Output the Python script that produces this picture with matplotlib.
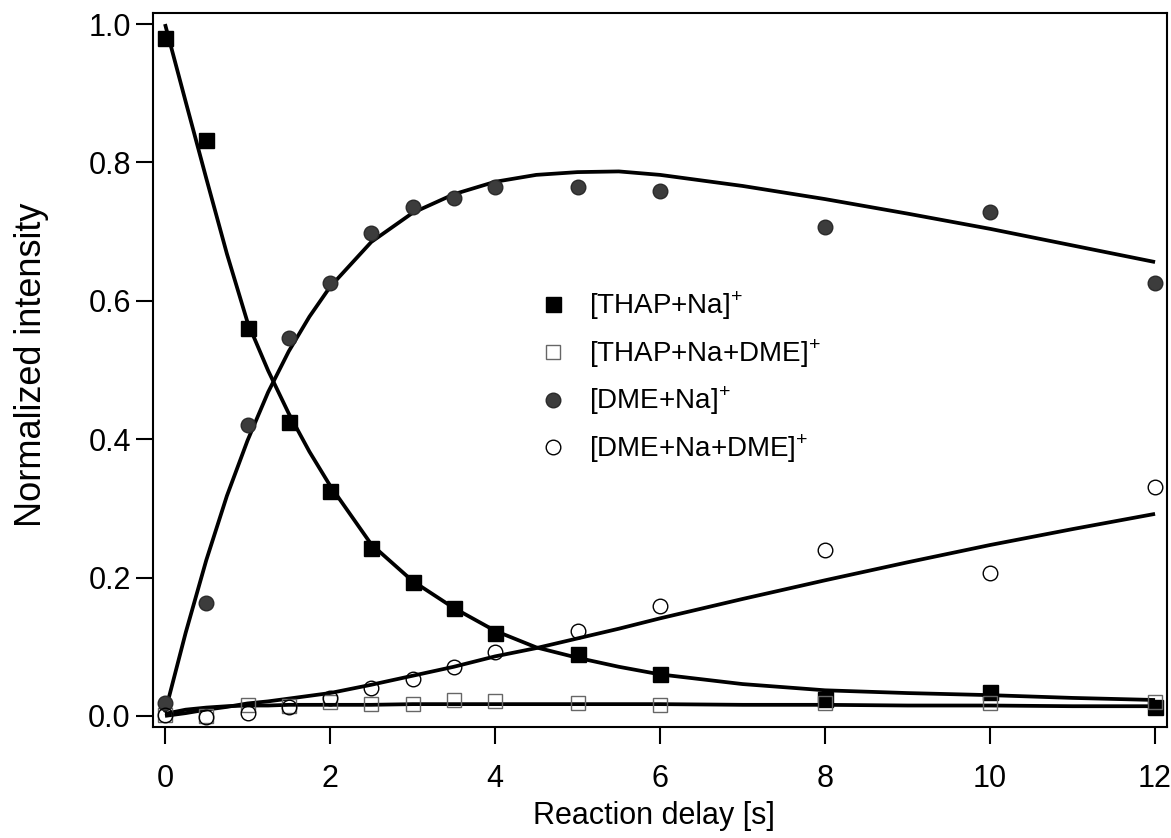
import matplotlib
matplotlib.use("Agg")
import matplotlib.pyplot as plt

plt.rcParams['font.family'] = ['Liberation Sans', 'DejaVu Sans']
plt.rcParams['mathtext.fontset'] = 'custom'
plt.rcParams['mathtext.rm'] = 'Liberation Sans'

# measured points
t_pts = [0, 0.5, 1, 1.5, 2, 2.5, 3, 3.5, 4, 5, 6, 8, 10, 12]
thap_na = [0.98, 0.833, 0.56, 0.425, 0.325, 0.243, 0.193, 0.156, 0.12, 0.089, 0.061, 0.024, 0.034, 0.013]
thap_na_dme = [0.001, 0.0, 0.016, 0.014, 0.02, 0.017, 0.017, 0.023, 0.021, 0.019, 0.016, 0.018, 0.018, 0.02]
dme_na = [0.018, 0.163, 0.42, 0.546, 0.625, 0.698, 0.736, 0.748, 0.765, 0.764, 0.758, 0.706, 0.729, 0.625]
dme_na_dme = [0.001, -0.001, 0.004, 0.013, 0.026, 0.041, 0.054, 0.071, 0.093, 0.122, 0.159, 0.24, 0.206, 0.331]

# fitted curves
t_fit = [0, 0.25, 0.5, 0.75, 1.0, 1.25, 1.5, 1.75, 2.0, 2.5, 3.0, 3.5, 4.0, 4.5, 5.0,
         5.5, 6.0, 7.0, 8.0, 9.0, 10.0, 11.0, 12.0]
fit_thap_na = [1.0, 0.888, 0.777, 0.668, 0.569, 0.499, 0.437, 0.382, 0.333, 0.248, 0.195, 0.156,
               0.123, 0.099, 0.084, 0.071, 0.06, 0.046, 0.037, 0.033, 0.03, 0.026, 0.023]
fit_thap_na_dme = [0.003, 0.009, 0.012, 0.014, 0.015, 0.015, 0.016, 0.016, 0.016, 0.016, 0.017, 0.017,
                   0.017, 0.017, 0.017, 0.017, 0.017, 0.016, 0.016, 0.015, 0.015, 0.014, 0.014]
fit_dme_na = [0.005, 0.12, 0.225, 0.318, 0.398, 0.468, 0.527, 0.577, 0.62, 0.685, 0.727, 0.754,
              0.772, 0.782, 0.786, 0.787, 0.782, 0.766, 0.747, 0.726, 0.704, 0.68, 0.656]
fit_dme_na_dme = [0.0, 0.004, 0.009, 0.013, 0.018, 0.021, 0.025, 0.029, 0.033, 0.045, 0.058, 0.071,
                  0.086, 0.098, 0.112, 0.126, 0.141, 0.169, 0.196, 0.222, 0.247, 0.27, 0.292]

fig = plt.figure(figsize=(11.71, 8.38), dpi=100)
ax = fig.add_axes([0.1307, 0.1325, 0.8659, 0.852])

for yy in [fit_thap_na, fit_thap_na_dme, fit_dme_na, fit_dme_na_dme]:
    ax.plot(t_fit, yy, color='black', lw=2.7, zorder=2, solid_capstyle='butt', solid_joinstyle='round')

ax.plot(t_pts, thap_na, ls='none', marker='s', ms=10.8, mfc='black', mec='black',
        label=r'[THAP+Na]$^{+}$', zorder=3)
ax.plot(t_pts, thap_na_dme, ls='none', marker='s', ms=10.2, mfc='none', mec='#666666', mew=1.0,
        label=r'[THAP+Na+DME]$^{+}$', zorder=3)
ax.plot(t_pts, dme_na, ls='none', marker='o', ms=10.5, mfc='#3c3c3c', mec='#2a2a2a',
        label=r'[DME+Na]$^{+}$', zorder=3)
ax.plot(t_pts, dme_na_dme, ls='none', marker='o', ms=10.5, mfc='none', mec='black', mew=1.0,
        label=r'[DME+Na+DME]$^{+}$', zorder=3)

ax.set_xlim(-0.145, 12.145)
ax.set_ylim(-0.016, 1.016)
ax.set_xticks([0, 2, 4, 6, 8, 10, 12])
ax.set_yticks([0.0, 0.2, 0.4, 0.6, 0.8, 1.0])
ax.set_yticklabels(['0.0', '0.2', '0.4', '0.6', '0.8', '1.0'])
ax.tick_params(direction='out', length=12, width=1.5, labelsize=22)
ax.tick_params(axis='x', pad=15)
ax.tick_params(axis='y', pad=4)
for s in ax.spines.values():
    s.set_linewidth(1.5)

ax.set_xlabel('Reaction delay [s]', fontsize=22)
ax.xaxis.set_label_coords(0.494, -0.104)
ax.set_ylabel('Normalized intensity', fontsize=26)
ax.yaxis.set_label_coords(-0.103, 0.507)

ax.legend(loc='upper left', bbox_to_anchor=(0.3807, 0.6126), frameon=False, fontsize=20,
          handlelength=1.0, handletextpad=0.8, labelspacing=0.55, borderpad=0, borderaxespad=0)

fig.savefig('out.png', dpi=100)
